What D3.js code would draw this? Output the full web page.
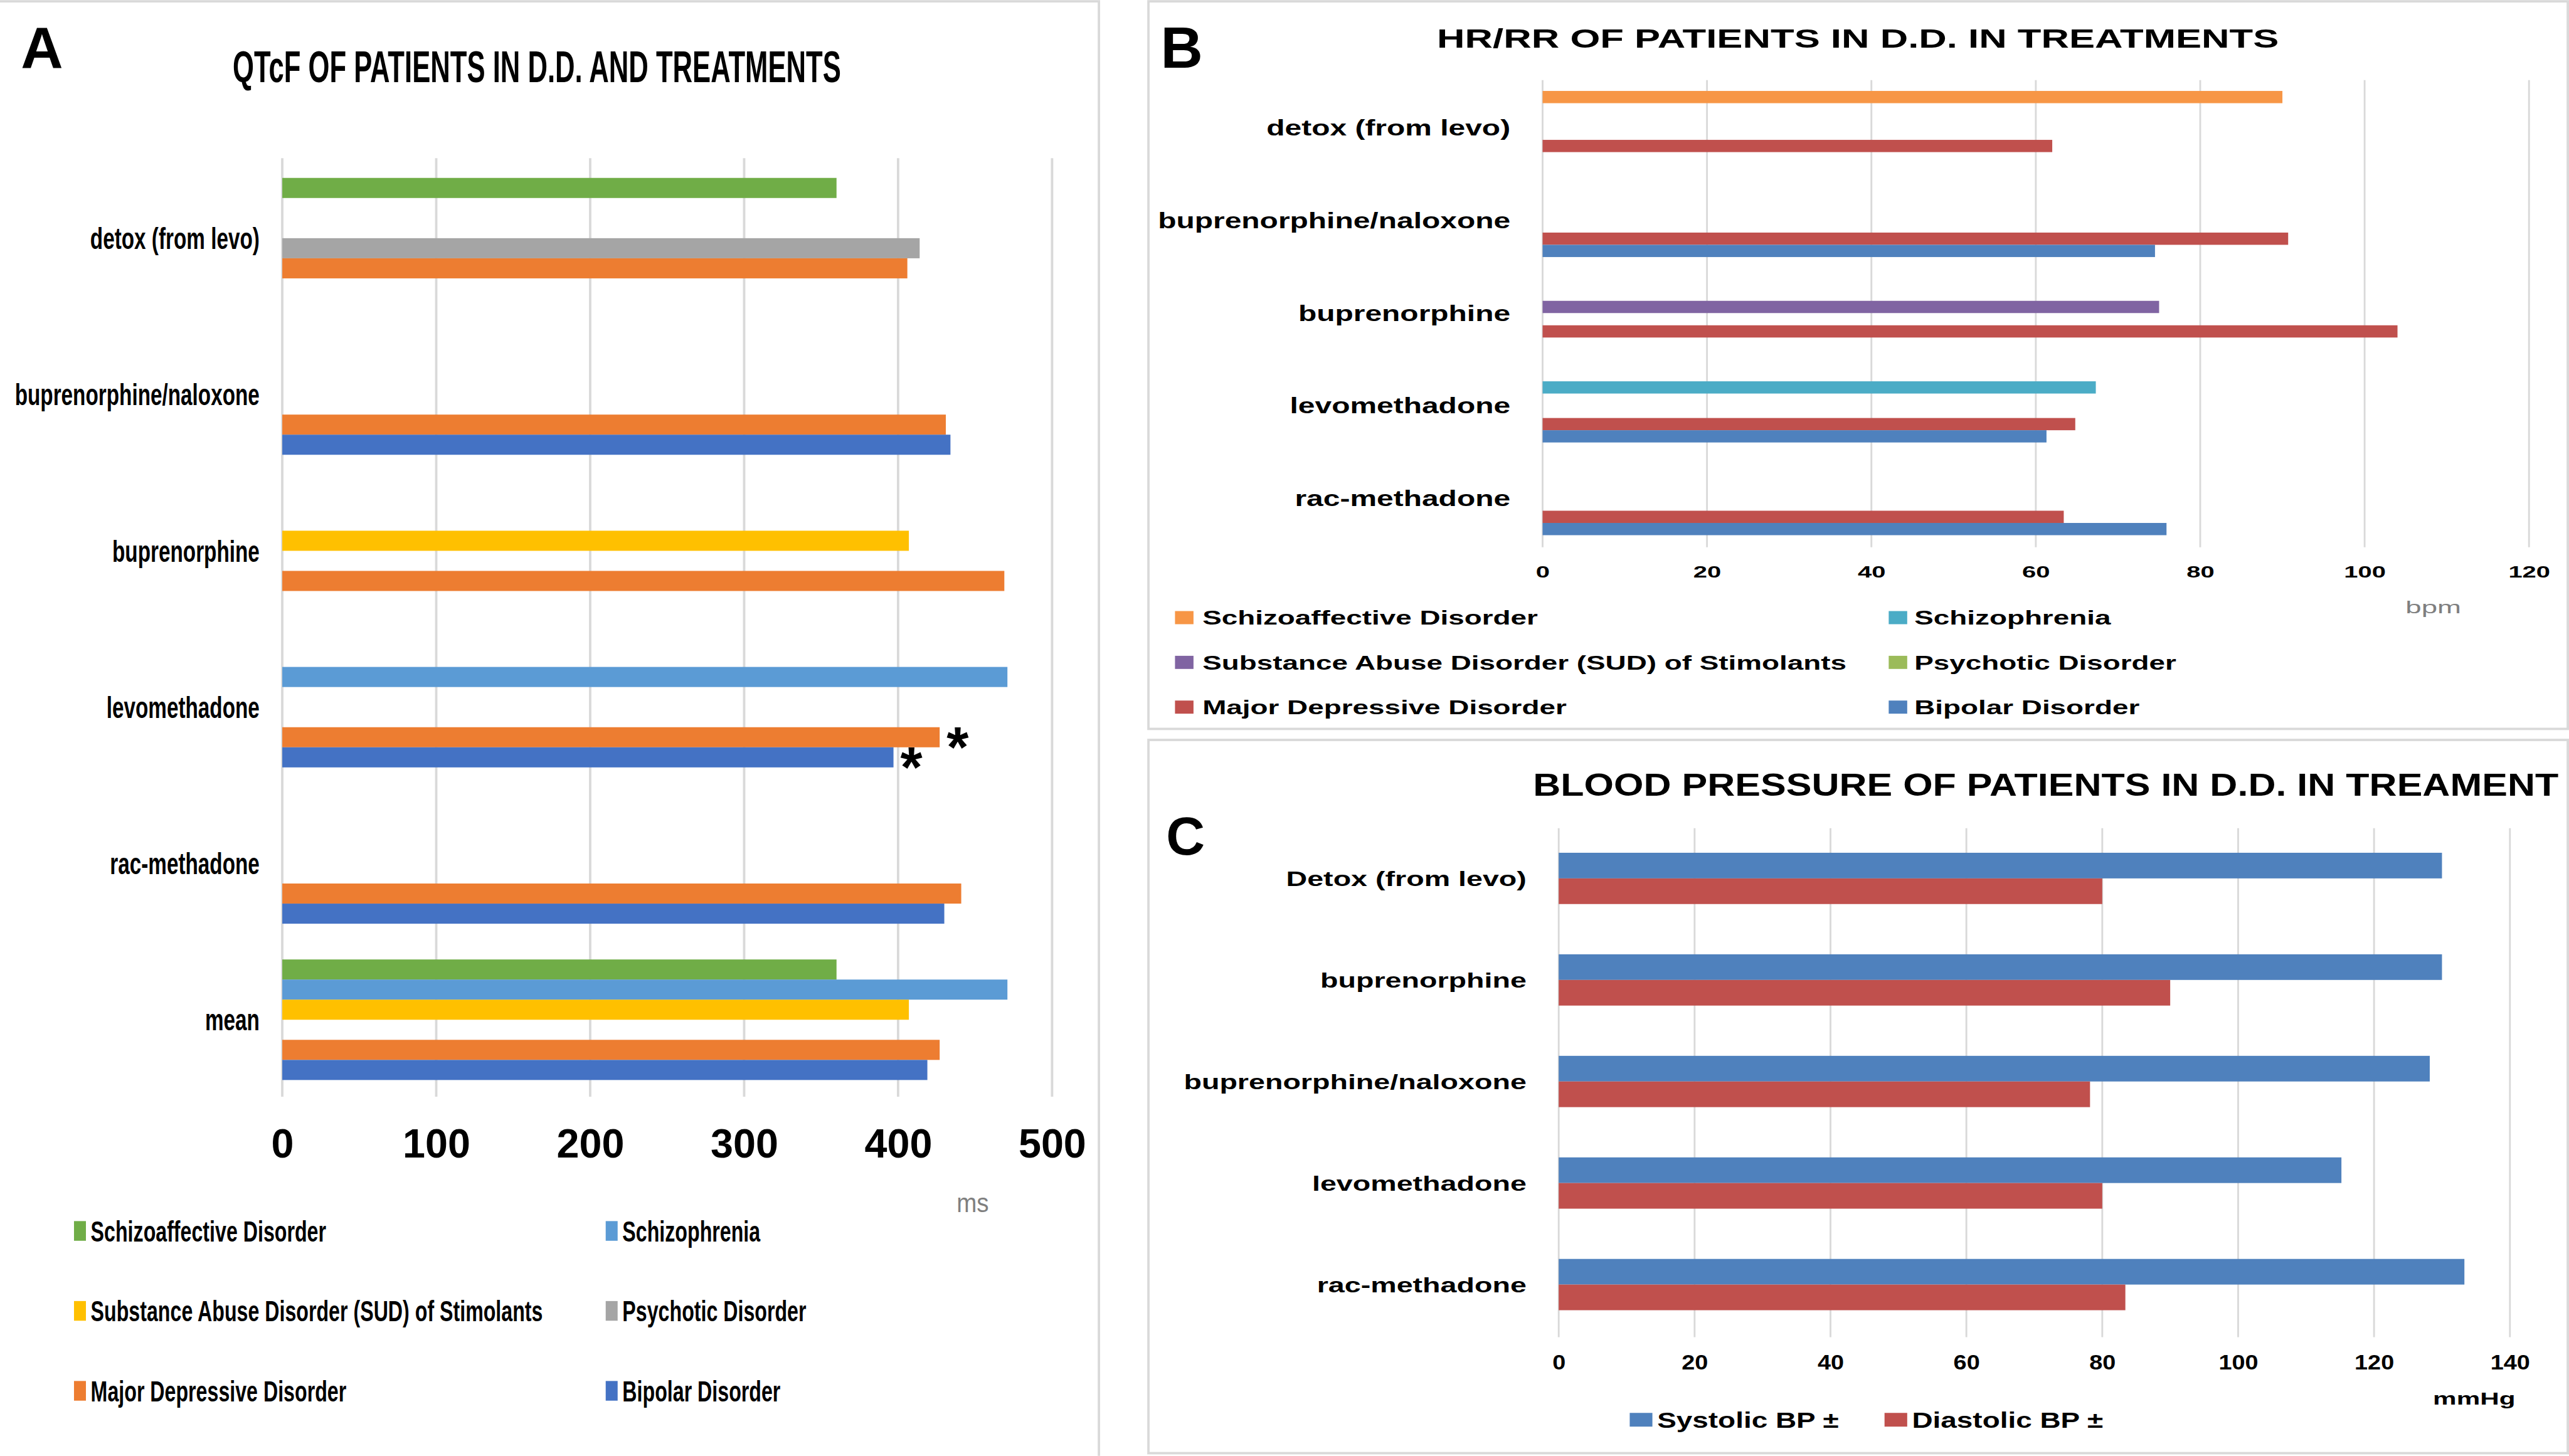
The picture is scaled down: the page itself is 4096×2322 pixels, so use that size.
<!DOCTYPE html>
<html>
<head>
<meta charset="utf-8">
<script src="https://cdn.jsdelivr.net/npm/d3@7"></script>
<style>
  body { margin: 0; background: #fff; }
  svg { display: block; }
  text { font-family: "Liberation Sans", Arial, sans-serif; }
</style>
</head>
<body>
<script>
// ---------- Data ----------

// Panel A : QTcF (ms)
const treatmentsA = ["detox (from levo)", "buprenorphine/naloxone", "buprenorphine", "levomethadone", "rac-methadone", "mean"];
// series listed top -> bottom inside each cluster
const disorders = ["Schizoaffective Disorder", "Schizophrenia", "Substance Abuse Disorder (SUD) of Stimolants", "Psychotic Disorder", "Major Depressive Disorder", "Bipolar Disorder"];
const qtcSchizoaffective = [360, null, null, null, null, 360];
const qtcSchizophrenia   = [null, null, null, 471, null, 471];
const qtcSUD             = [null, null, 407, null, null, 407];
const qtcPsychotic       = [414, null, null, null, null, null];
const qtcMDD             = [406, 431, 469, 427, 441, 427];
const qtcBipolar         = [null, 434, null, 397, 430, 419];
const ticksA = [0, 100, 200, 300, 400, 500];
// significance marks
const sigA = [
	{ treatment: "levomethadone", disorder: "Major Depressive Disorder" },
	{ treatment: "levomethadone", disorder: "Bipolar Disorder" }
];

// Panel B : HR/RR (bpm)
const treatmentsB = ["detox (from levo)", "buprenorphine/naloxone", "buprenorphine", "levomethadone", "rac-methadone"];
const hrSchizoaffective = [90, null, null, null, null];
const hrSchizophrenia   = [null, null, null, 67.3, null];
const hrSUD             = [null, null, 75, null, null];
const hrPsychotic       = [null, null, null, null, null];
const hrMDD             = [62, 90.7, 104, 64.8, 63.4];
const hrBipolar         = [null, 74.5, null, 61.3, 75.9];
const ticksB = [0, 20, 40, 60, 80, 100, 120];

// Panel C : blood pressure (mmHg)
const treatmentsC = ["Detox (from levo)", "buprenorphine", "buprenorphine/naloxone", "levomethadone", "rac-methadone"];
const bpNames = ["Systolic BP \u00b1", "Diastolic BP \u00b1"];
const systolic  = [130, 130, 128.2, 115.2, 133.3];
const diastolic = [80, 90, 78.2, 80, 83.4];
const ticksC = [0, 20, 40, 60, 80, 100, 120, 140];

// ---------- Colours ----------
const colorsA = ["#70AD47", "#5B9BD5", "#FFC000", "#A5A5A5", "#ED7D31", "#4472C4"];
const colorsB = ["#F79646", "#4BACC6", "#8064A2", "#9BBB59", "#C0504D", "#4F81BD"];
const colorsC = ["#4F81BD", "#C0504D"];
const gridColor = "#d9d9d9";

const seriesA = [qtcSchizoaffective, qtcSchizophrenia, qtcSUD, qtcPsychotic, qtcMDD, qtcBipolar]
	.map((values, i) => ({ name: disorders[i], values, color: colorsA[i] }));
const seriesB = [hrSchizoaffective, hrSchizophrenia, hrSUD, hrPsychotic, hrMDD, hrBipolar]
	.map((values, i) => ({ name: disorders[i], values, color: colorsB[i] }));
const seriesC = [systolic, diastolic]
	.map((values, i) => ({ name: bpNames[i], values, color: colorsC[i] }));

// ---------- Setup ----------
// drawn in the reference's own pixel space, scaled down by the viewBox
const W = 4305, H = 2440;
const svg = d3.select("body").append("svg")
	.attr("width", 4096)
	.attr("height", 2322)
	.attr("viewBox", `0 0 ${W} ${H}`);

// stretch / squeeze text horizontally (the figure panels were resized unevenly)
// done with a transform so the text box really is the drawn size
function squeeze(sel, k) {
	sel.each(function () {
		const t = d3.select(this);
		const x = +t.attr("x") || 0, y = +t.attr("y") || 0;
		t.attr("x", 0).attr("y", 0)
			.attr("transform", `translate(${x},${y}) scale(${k},1)`);
	});
	return sel;
}

function drawGrid(g, x, ticks, y0, y1, w) {
	g.append("g").selectAll("line")
		.data(ticks)
		.join("line")
		.attr("x1", d => x(d))
		.attr("x2", d => x(d))
		.attr("y1", y0)
		.attr("y2", y1)
		.attr("stroke", gridColor)
		.attr("stroke-width", w);
}

function drawBars(g, cats, series, x, y, pad) {
	const inner = d3.scaleBand()
		.domain(series.map(s => s.name))
		.range([0, y.bandwidth()])
		.paddingOuter(pad);
	series.forEach(s => {
		g.append("g").selectAll("rect")
			.data(cats.map((c, i) => ({ cat: c, v: s.values[i] })).filter(d => d.v != null))
			.join("rect")
			.attr("x", x(0))
			.attr("y", d => y(d.cat) + inner(s.name))
			.attr("width", d => x(d.v) - x(0))
			.attr("height", inner.bandwidth())
			.attr("fill", s.color);
	});
	return inner;
}

function drawTicks(g, x, ticks, cy, size, k) {
	const axis = g.append("g")
		.attr("transform", `translate(0, ${cy})`)
		.call(d3.axisBottom(x).tickValues(ticks).tickSize(0).tickPadding(0));
	axis.select(".domain").remove();
	const t = axis.selectAll("text")
		.attr("y", 0)
		.attr("dy", "0.36em")
		.attr("fill", "#000")
		.attr("font-size", size)
		.attr("font-weight", "bold")
		.style("font-family", "'Liberation Sans', Arial, sans-serif");
	squeeze(t, k);
}

function drawCatLabels(g, cats, y, xRight, size, k) {
	const t = g.append("g").selectAll("text")
		.data(cats)
		.join("text")
		.attr("x", xRight)
		.attr("y", d => y(d) + y.bandwidth() / 2)
		.attr("dy", "0.36em")
		.attr("text-anchor", "end")
		.attr("font-size", size)
		.attr("font-weight", "bold")
		.attr("fill", "#000")
		.text(d => d);
	squeeze(t, k);
}

function addText(g, str, x, y, size, k, opts = {}) {
	const t = g.append("text")
		.attr("x", x)
		.attr("y", y)
		.attr("font-size", size)
		.attr("font-weight", opts.weight || "bold")
		.attr("fill", opts.fill || "#000")
		.attr("text-anchor", opts.anchor || "start")
		.attr("dy", opts.dy || null)
		.text(str);
	squeeze(t, k);
	return t;
}

// ---------- Panel borders ----------
const borders = svg.append("g")
	.attr("fill", "none")
	.attr("stroke", gridColor)
	.attr("stroke-width", 4);
borders.append("path").attr("d", `M0,2 H1841.5 V${H}`);
borders.append("rect").attr("x", 1924.5).attr("y", 2).attr("width", 2378.5).attr("height", 1219.5);
borders.append("rect").attr("x", 1924.5).attr("y", 1240).attr("width", 2378.5).attr("height", 1195.5);

// ---------- Panel A ----------
const gA = svg.append("g");
const xA = d3.scaleLinear().domain([0, 500]).range([473, 1763]);
const yA = d3.scaleBand().domain(treatmentsA).range([268, 1840]);

drawGrid(gA, xA, ticksA, 265, 1838, 4);
const innerA = drawBars(gA, treatmentsA, seriesA, xA, yA, 0.89);
drawTicks(gA, xA, ticksA, 1915, 68, 1.0);
drawCatLabels(gA, treatmentsA, yA, 435, 50, 0.70);

addText(gA, "A", 35, 113, 98, 1.0);
addText(gA, "QTcF OF PATIENTS IN D.D. AND TREATMENTS", 390, 137, 74, 0.62);

// significance asterisks
gA.append("g").selectAll("text")
	.data(sigA)
	.join("text")
	.attr("x", d => xA(seriesA.find(s => s.name === d.disorder).values[treatmentsA.indexOf(d.treatment)]) + 30)
	.attr("y", d => yA(d.treatment) + innerA(d.disorder) + innerA.bandwidth() / 2 + 50)
	.attr("text-anchor", "middle")
	.attr("font-size", 95)
	.attr("font-weight", "bold")
	.text("*");

// legend A
const legA = gA.append("g");
seriesA.forEach((s, i) => {
	const col = i % 2, row = Math.floor(i / 2);
	const sx = [124, 1015][col];
	const cy = 2063 + row * 134;
	legA.append("rect")
		.attr("x", sx).attr("y", cy - 16.5)
		.attr("width", 20).attr("height", 33)
		.attr("fill", s.color);
	addText(legA, s.name, sx + 28, cy, 49, 0.69, { dy: "0.36em" });
});
addText(gA, "ms", 1603, 2015, 45, 0.9, { weight: "normal", fill: "#7f7f7f", dy: "0.36em" });

// ---------- Panel B ----------
const gB = svg.append("g");
const xB = d3.scaleLinear().domain([0, 120]).range([2585, 4238]);
const yB = d3.scaleBand().domain(treatmentsB).range([136, 913]);

drawGrid(gB, xB, ticksB, 134, 917, 3);
drawBars(gB, treatmentsB, seriesB, xB, yB, 0.79);
drawTicks(gB, xB, ticksB, 958, 28, 1.5);
drawCatLabels(gB, treatmentsB, yB, 2531, 36, 1.40);

addText(gB, "B", 1945, 113, 98, 1.0);
addText(gB, "HR/RR OF PATIENTS IN D.D. IN TREATMENTS", 2408, 80, 45, 1.44);

const legB = gB.append("g");
seriesB.forEach((s, i) => {
	const col = i % 2, row = Math.floor(i / 2);
	const sx = [1969, 3165][col];
	const cy = 1035 + row * 75;
	legB.append("rect")
		.attr("x", sx).attr("y", cy - 11)
		.attr("width", 31).attr("height", 22)
		.attr("fill", s.color);
	addText(legB, s.name, [2015, 3208][col], cy, 33, 1.46, { dy: "0.36em" });
});
addText(gB, "bpm", 4031, 1017, 30, 1.6, { weight: "normal", fill: "#7f7f7f", dy: "0.36em" });

// ---------- Panel C ----------
const gC = svg.append("g");
const xC = d3.scaleLinear().domain([0, 140]).range([2612, 4206]);
const yC = d3.scaleBand().domain(treatmentsC).range([1387, 2238]);

drawGrid(gC, xC, ticksC, 1388, 2241, 3);
drawBars(gC, treatmentsC, seriesC, xC, yC, 0.98);
drawTicks(gC, xC, ticksC, 2283, 34, 1.17);
drawCatLabels(gC, treatmentsC, yC, 2558, 35, 1.40);

addText(gC, "C", 1954, 1432, 90, 1.0);
addText(gC, "BLOOD PRESSURE OF PATIENTS IN D.D. IN TREAMENT", 2569, 1334, 53, 1.21);
addText(gC, "mmHg", 4077, 2343, 30, 1.48, { dy: "0.36em" });

const legC = gC.append("g");
seriesC.forEach((s, i) => {
	const sx = [2731, 3158][i];
	legC.append("rect")
		.attr("x", sx).attr("y", 2368)
		.attr("width", 38).attr("height", 23)
		.attr("fill", s.color);
	addText(legC, s.name, sx + 46, 2380, 36, 1.34, { dy: "0.36em" });
});
</script>
</body>
</html>
